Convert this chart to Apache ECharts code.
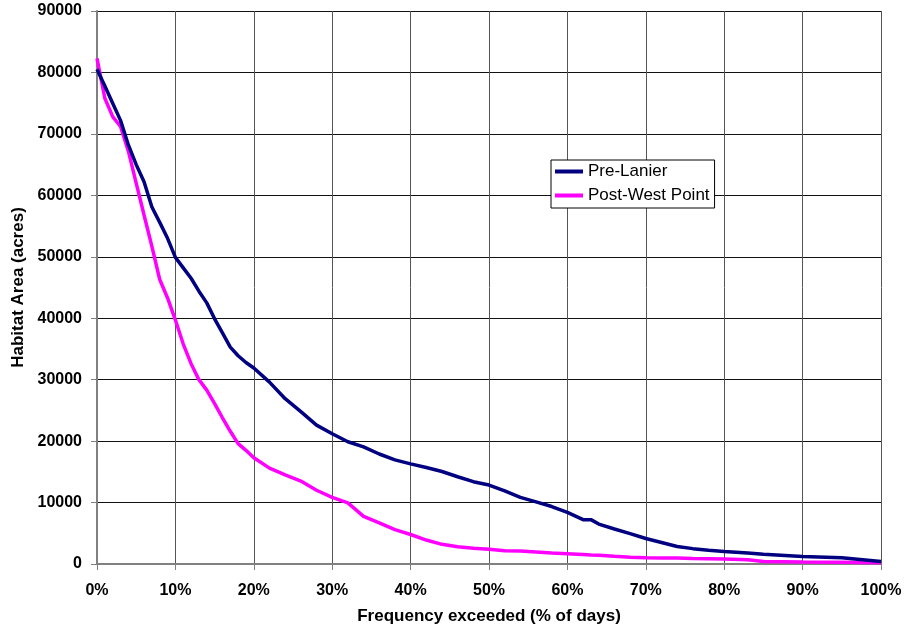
<!DOCTYPE html>
<html>
<head>
<meta charset="utf-8">
<script src="https://cdn.jsdelivr.net/npm/echarts@6/dist/echarts.min.js"></script>
<style>html,body{margin:0;padding:0;background:#fff}#c{width:909px;height:634px}</style>
</head>
<body>
<div id="c"></div>
<script>
// x positions (% of days exceeded)
var xPercent = [0,1,2,3,4,5,6,7,8,9,10,11,12,13,14,15,16,17,18,19,20,22,24,26,28,30,32,34,36,38,40,42,44,46,48,50,52,54,56,58,60,62,63,64,66,68,70,72,74,76,78,80,83,85,90,95,100];
var preLanier = [80500,77800,75000,72200,68200,65000,62200,58100,55600,53000,49900,48200,46500,44400,42500,39900,37600,35300,33900,32800,31900,29600,26900,24800,22600,21200,19900,19050,17900,16950,16300,15700,15050,14200,13400,12850,11900,10850,10100,9350,8400,7220,7220,6500,5700,4950,4150,3500,2850,2500,2230,2050,1800,1600,1240,1000,420];
var postWestPoint = [82300,75800,72800,71200,67200,62000,56800,51700,46300,43300,39700,35800,32600,30000,28300,26100,23800,21600,19600,18500,17300,15600,14500,13500,12000,10850,9950,7760,6700,5600,4800,3900,3200,2800,2550,2400,2150,2100,1950,1800,1680,1550,1480,1420,1250,1100,1000,960,960,900,860,800,700,400,330,280,210];
var seriesNames = ['Pre-Lanier','Post-West Point'];
var yTicks = {min:0, max:90000, interval:10000};
var xTicks = {min:0, max:100, interval:10};

function pairs(xs, ys){ return xs.map(function(x,i){ return [x, ys[i]]; }); }

var chart = echarts.init(document.getElementById('c'), null, {renderer:'canvas'});
var font = 'Liberation Sans, Arial, sans-serif';
chart.setOption({
  animation:false,
  backgroundColor:'#fff',
  grid:{left:97, right:28, top:11, bottom:70, containLabel:false},
  legend:{
    orient:'vertical', left:551, top:160,
    data:seriesNames,
    backgroundColor:'#fff', borderColor:'#000', borderWidth:1,
    padding:[3,5,4,4], itemGap:7, itemWidth:28, itemHeight:4,
    icon:'rect',
    textStyle:{fontFamily:font, fontSize:17, color:'#000'}
  },
  xAxis:{
    type:'value', min:xTicks.min, max:xTicks.max, interval:xTicks.interval,
    name:'Frequency exceeded (% of days)', nameLocation:'middle', nameGap:44,
    nameTextStyle:{fontFamily:font, fontSize:17, fontWeight:'bold', color:'#000'},
    axisLine:{show:true, onZero:false, lineStyle:{color:'#808080', width:2}},
    axisTick:{show:true, length:6, lineStyle:{color:'#808080', width:1}},
    axisLabel:{fontFamily:font, fontSize:16, fontWeight:'bold', color:'#000', margin:19,
      formatter:function(v){return v+'%';}},
    splitLine:{show:true, lineStyle:{color:'#555', width:1}}
  },
  yAxis:{
    type:'value', min:yTicks.min, max:yTicks.max, interval:yTicks.interval,
    name:'Habitat Area (acres)', nameLocation:'middle', nameGap:67,
    nameTextStyle:{fontFamily:font, fontSize:17, fontWeight:'bold', color:'#000'},
    axisLine:{show:true, lineStyle:{color:'#808080', width:2}},
    axisTick:{show:true, length:6, lineStyle:{color:'#808080', width:1}},
    axisLabel:{fontFamily:font, fontSize:16, fontWeight:'bold', color:'#000', margin:15,
      formatter:function(v){return String(v);}},
    splitLine:{show:true, lineStyle:{color:'#111', width:1}}
  },
  series:[
    {name:seriesNames[0], type:'line', data:pairs(xPercent, preLanier), showSymbol:false, symbol:'none',
      lineStyle:{color:'#000080', width:3.5}, itemStyle:{color:'#000080'}, smooth:false, z:3},
    {name:seriesNames[1], type:'line', data:pairs(xPercent, postWestPoint), showSymbol:false, symbol:'none',
      lineStyle:{color:'#FF00FF', width:3.5}, itemStyle:{color:'#FF00FF'}, smooth:false, z:2}
  ]
});
</script>
</body>
</html>
